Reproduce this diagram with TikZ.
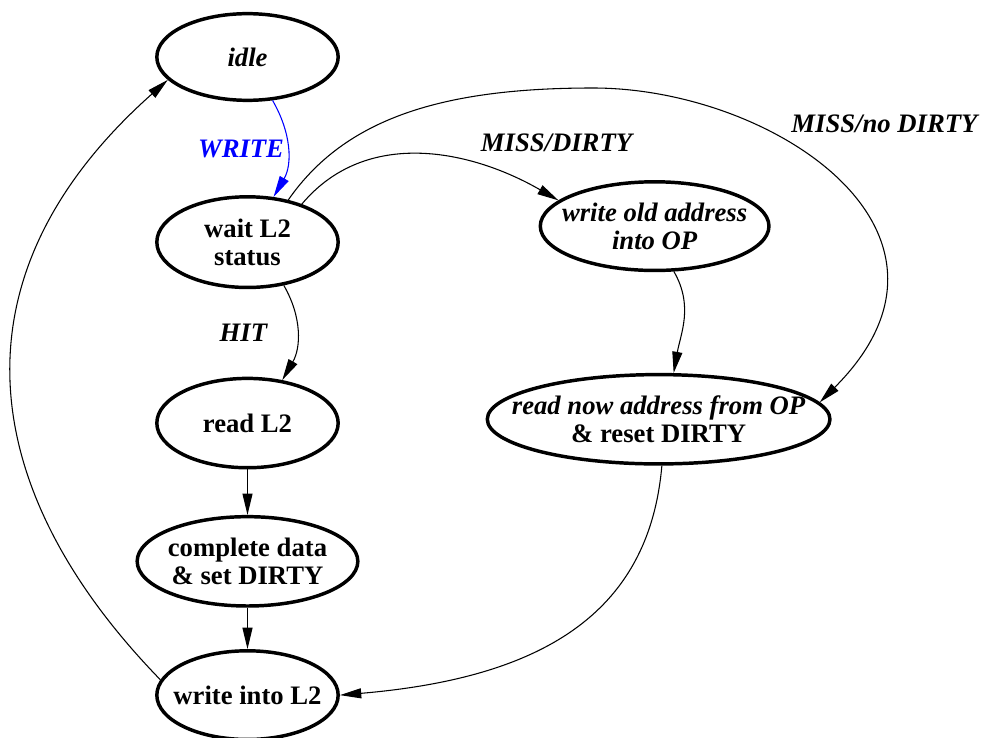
\documentclass[tikz,border=0pt]{standalone}
\usepackage{fontspec}
\setmainfont{Liberation Serif}
\usetikzlibrary{shapes, arrows.meta, positioning, calc}
\newcommand{\statefont}{\fontsize{20}{21}\selectfont\bfseries}
\tikzset{
    state/.style = {ellipse, draw, line width=2.6pt, inner sep=0pt, align=center, minimum width=136pt, minimum height=67pt, font=\statefont},
    edgelabel/.style = {font=\statefont\itshape, inner sep=2pt},
    line/.style = {draw, -{Triangle[length=16pt, width=7.5pt]}, line width=0.8pt}
}

\begin{document}
\begin{tikzpicture}[x=0.75pt, y=0.75pt, node distance=31pt]
        \useasboundingbox (0,0) rectangle (986,-738);

        % Idle state
        \node [state, minimum height=65pt, font=\statefont\itshape] (idle) at (247.5,-57) {idle};

        % Waiting for the L2 answer
        \node [state, below=69.75pt of idle, minimum height=68pt] (wait) {wait L2\\status};

        % Hit path
        \node [state, below=65.6pt of wait] (readl2) {read L2};
        \node [state, below=34.1pt of readl2, minimum width=165.5pt, inner xsep=-1.5pt] (complete) {complete data\\\& set DIRTY};
        \node [state, below=of complete, minimum height=66.5pt, inner xsep=-8pt] (writel2) {write into L2};

        % Miss path
        \node [state, right=149pt of wait, yshift=12pt, minimum width=171.5pt, minimum height=66.5pt, inner xsep=-9pt, font=\statefont\itshape] (writeold) {write old address\\into OP};
        \node [state, below=75.5pt of writeold, xshift=3pt, minimum width=257pt, inner xsep=-20pt] (readnow) {\textit{read now address from OP}\\\& reset DIRTY};

        % Bend point of the long arc
        \coordinate (crest) at (593,-88);

        % Arrows
        \path [line, blue] (idle.-60) to[out=-60, in=60] node[edgelabel, text=blue, left] {WRITE} (wait.60);
        \path [line] (wait.-50) to[out=-60, in=60] node[edgelabel, left=20pt] {HIT} (readl2.51);
        \path [line] (wait.35) to[out=50, in=150] node[edgelabel, pos=0.8, above=14pt, xshift=39pt] {MISS/DIRTY} (writeold.165);
        \path [line] (wait.46) .. controls +(57,82) and +(-150,0) .. (crest)
            .. controls +(180,0) and +(170,170) .. (readnow.6)
            node[edgelabel, pos=0.25, anchor=west, xshift=45pt, yshift=-8pt] {MISS/no DIRTY};
        \path [line] (writeold.-67) to[out=-60, in=80] (readnow.72);
        \path [line] (readl2) -- (complete);
        \path [line] (complete) -- (writel2);
        \path [line] (readnow.-86) .. controls +(-13,-150) and +(199,17) .. (writel2.east);
        \path [line] (writel2.170) .. controls +(-180,185) and +(-225,-200) .. (idle.196);

    \end{tikzpicture}
\end{document}
